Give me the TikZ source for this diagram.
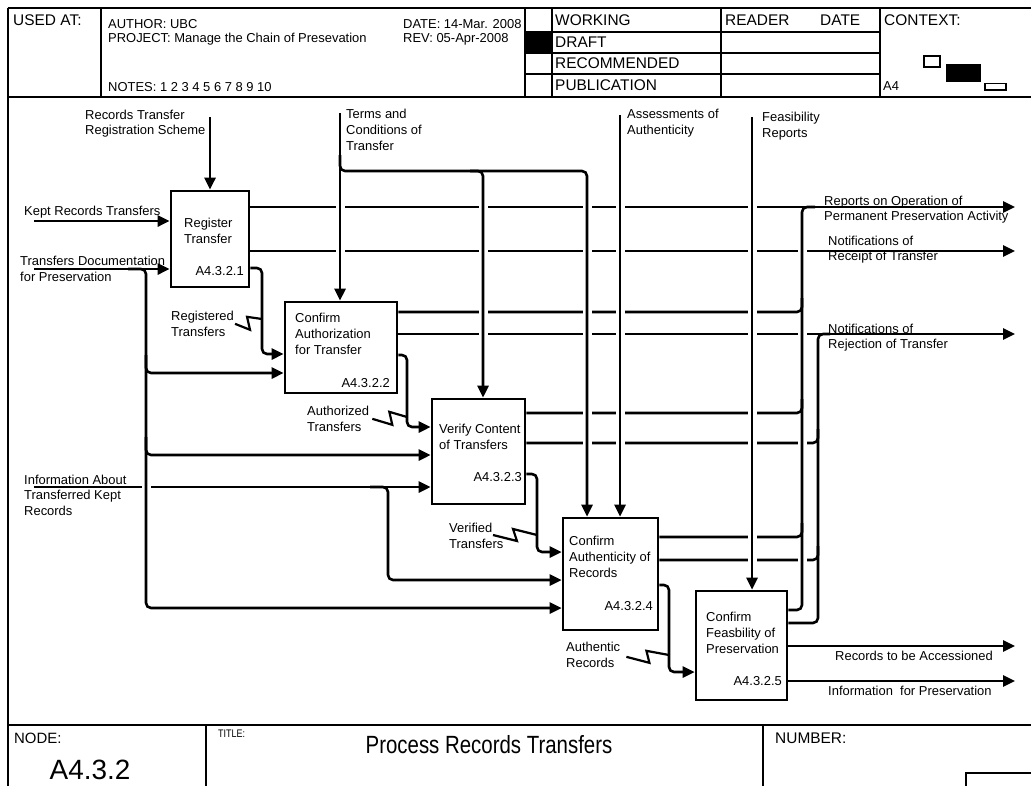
\documentclass[tikz,border=0pt]{standalone}
\usepackage{fontspec}
\setmainfont{Liberation Sans}
\newfontfamily\narrowf[FakeStretch=0.82]{Liberation Sans}
\usetikzlibrary{arrows.meta}
\begin{document}
\begin{tikzpicture}[x=1bp,y=-1bp,
  ln/.style={line width=2.6bp,line join=round},
  rc/.style={rounded corners=5bp},
  arr/.style={-{Triangle[length=12bp,width=11bp]}},
  box/.style={draw,line width=2.6bp,inner sep=0pt},
  hl/.style={line width=2.8bp},
  fr/.style={line width=2bp},
  sq/.style={line width=2.2bp,line join=miter},
  lbl/.style={inner sep=0pt,anchor=north west,align=left,font=\fontsize{13}{15.8}\selectfont},
  num/.style={inner sep=0pt,anchor=north east,font=\fontsize{13}{15.8}\selectfont},
  hd/.style={inner sep=0pt,anchor=base west,font=\fontsize{15.5}{18}\selectfont},
  hs/.style={inner sep=0pt,anchor=base west,font=\fontsize{13}{15}\selectfont},
]
\useasboundingbox (0,0) rectangle (1031,786);

% ---------- header ----------
\draw[hl] (7.5,8) -- (1031,8);
\draw[hl] (7.5,97) -- (1031,97);
\draw[fr] (7.5,8) -- (7.5,786);
\foreach \xx in {101,525,552,721,880} \draw[hl] (\xx,8) -- (\xx,97);
\foreach \yy in {32,53,74} \draw[hl] (525,\yy) -- (880,\yy);
\fill (525,32) rectangle (552,53);
\draw[line width=1.6bp] (924,56) rectangle (940,67);
\fill (946,64) rectangle (981,82);
\draw[line width=1.6bp] (985,83.5) rectangle (1006,90);

\node[hd] (usedat) at (13,25.5) {USED AT:};
\node[hs] (author) at (108,28.5) {AUTHOR: UBC};
\node[hs] (project) at (108,42.5) {PROJECT: Manage the Chain of Presevation};
\node[hs] (notes) at (108,91.5) {NOTES: 1 2 3 4 5 6 7 8 9 10};
\node[hs] (date) at (403,28.5) {DATE: 14-Mar. 2008};
\node[hs] (rev) at (403,42.5) {REV: 05-Apr-2008};
\node[hd] (working) at (555,25.5) {WORKING};
\node[hd] (draft) at (555,47.5) {DRAFT};
\node[hd] (recomm) at (555,68.5) {RECOMMENDED};
\node[hd] (public) at (555,90.5) {PUBLICATION};
\node[hd] (reader) at (725,25.5) {READER};
\node[hd] (rdate) at (820,25.5) {DATE};
\node[hd] (context) at (884,25.5) {CONTEXT:};
\node[hs] (afour) at (883,91) {A4};

% ---------- footer ----------
\draw[hl] (7.5,725) -- (1031,725);
\draw[hl] (206,725) -- (206,786);
\draw[hl] (763,725) -- (763,786);
\draw[hl] (966,786) -- (966,773) -- (1031,773);
\node[inner sep=0pt,anchor=base west,font=\fontsize{15}{17}\selectfont] (nodelbl) at (14,743) {NODE:};
\node[inner sep=0pt,anchor=base,font=\fontsize{28}{32}\selectfont] (nodeval) at (90,779) {A4.3.2};
\node[inner sep=0pt,anchor=base west,font=\narrowf\fontsize{11}{13}\selectfont] (titlelbl) at (218,737) {TITLE:};
\node[inner sep=0pt,anchor=base,font=\narrowf\fontsize{25}{30}\selectfont] (titleval) at (489,753) {Process Records Transfers};
\node[inner sep=0pt,anchor=base west,font=\fontsize{15.5}{17}\selectfont] (numlbl) at (775,743) {NUMBER:};

% ---------- boxes ----------
\node[box,minimum width=78bp,minimum height=96bp] (b1) at (210,239) {};
\node[box,minimum width=112bp,minimum height=91bp] (b2) at (341,347.5) {};
\node[box,minimum width=93bp,minimum height=105bp] (b3) at (478.5,451.5) {};
\node[box,minimum width=95bp,minimum height=112bp] (b4) at (610.5,574) {};
\node[box,minimum width=91bp,minimum height=109bp] (b5) at (741.5,645.5) {};

\node[lbl] (b1t) at (184,218) {Register\\Transfer};
\node[num] (b1n) at (244,266) {A4.3.2.1};
\node[lbl] (b2t) at (295,313) {Confirm\\Authorization\\for Transfer};
\node[num] (b2n) at (390,378) {A4.3.2.2};
\node[lbl] (b3t) at (439,424) {Verify Content\\of Transfers};
\node[num] (b3n) at (522,472) {A4.3.2.3};
\node[lbl] (b4t) at (569,536) {Confirm\\Authenticity of\\Records};
\node[num] (b4n) at (653,601) {A4.3.2.4};
\node[lbl] (b5t) at (706,612) {Confirm\\Feasbility of\\Preservation};
\node[num] (b5n) at (782,676.5) {A4.3.2.5};

% ---------- arrow labels ----------
\node[lbl] (lrts) at (85,109.5) {Records Transfer\\Registration Scheme};
\node[lbl] (lterms) at (346,109) {Terms and\\Conditions of\\Transfer};
\node[lbl] (lassess) at (627,109) {Assessments of\\Authenticity};
\node[lbl] (lfeas) at (762,112) {Feasibility\\Reports};
\node[lbl] (lkept) at (24,206) {Kept Records Transfers};
\node[lbl] (ltdoc) at (20,256) {Transfers Documentation\\for Preservation};
\node[lbl] (linfo) at (24,474.5) {Information About\\Transferred Kept\\Records};
\node[lbl] (lreg) at (171,311) {Registered\\Transfers};
\node[lbl] (lauth) at (307,406) {Authorized\\Transfers};
\node[lbl] (lver) at (449,523) {Verified\\Transfers};
\node[lbl] (lautr) at (566,642) {Authentic\\Records};
\node[lbl] (lrep) at (824,195.5) {Reports on Operation of\\Permanent Preservation Activity};
\node[lbl] (lnrec) at (828,235.5) {Notifications of\\Receipt of Transfer};
\node[lbl] (lnrej) at (828,323.5) {Notifications of\\Rejection of Transfer};
\node[lbl] (lacc) at (835,650.5) {Records to be Accessioned};
\node[lbl] (linfp) at (828,685.5) {Information~~for Preservation};

% free ends
\coordinate (inKept) at (34,221);
\coordinate (inTdoc) at (34,269);
\coordinate (inInfo) at (34,487);
\coordinate (cReg) at (210,117);
\coordinate (cTerms) at (340,113);
\coordinate (cAssess) at (620,115);
\coordinate (cFeas) at (752,117);
\coordinate (oRep) at (1015,207);
\coordinate (oRec) at (1015,251);
\coordinate (oRej) at (1015,334);
\coordinate (oAcc) at (1015,646);
\coordinate (oInf) at (1015,681);

% ---------- layer 1: horizontals ----------
\draw[ln,arr] (inKept) -- (b1.west |- inKept);
\draw[ln,arr] (inTdoc) -- (b1.west |- inTdoc);
\draw[ln,arr] (inInfo) -- (b3.west |- inInfo);
\draw[ln,rc,arr] (370,487) -- (388,487) -- (388,580) -- (b4.west |- 0,580);
\draw[ln,rc,arr] (146,355) -- (146,373) -- (b2.west |- 0,373);
\draw[ln,rc,arr] (146,437) -- (146,455) -- (b3.west |- 0,455);

\draw[ln,rc,arr] (b1.east |- 0,268) -- (262,268) -- (262,354) -- (b2.west |- 0,354);
\draw[ln,rc,arr] (b2.east |- 0,355) -- (407,355) -- (407,427) -- (b3.west |- 0,427);
\draw[ln,rc,arr] (b3.east |- 0,474) -- (537,474) -- (537,552) -- (b4.west |- 0,552);
\draw[ln,rc,arr] (b4.east |- 0,585) -- (669,585) -- (669,672) -- (b5.west |- 0,672);

\draw[ln,arr] (b1.east |- oRep) -- (oRep);
\draw[ln,arr] (b1.east |- oRec) -- (oRec);
\draw[ln,rc] (b2.east |- 0,312) -- (802,312) -- (802,298);
\draw[ln,arr] (b2.east |- oRej) -- (oRej);
\draw[ln,rc] (b3.east |- 0,413) -- (802,413) -- (802,399);
\draw[ln,rc] (b3.east |- 0,443) -- (818,443) -- (818,429);
\draw[ln,rc] (b4.east |- 0,537) -- (802,537) -- (802,523);
\draw[ln,rc] (b4.east |- 0,560) -- (818,560) -- (818,546);
\draw[ln,arr] (b5.east |- oAcc) -- (oAcc);
\draw[ln,arr] (b5.east |- oInf) -- (oInf);

% squiggles
\draw[sq] ([xshift=1bp]lreg.east) -- ++(15,6) -- ++(-3,-13) -- (262,319);
\draw[sq] ([xshift=3bp]lauth.east) -- ++(20,6) -- ++(-3,-13) -- (407,417);
\draw[sq] (493,535) -- (517,541) -- (513,529) -- (537,535);
\draw[sq] ([xshift=6bp,yshift=-2bp]lautr.east) -- ++(23,6) -- ++(-3,-12) -- (669,655);

% ---------- gaps at crossings ----------
\foreach \px/\py in {340/207,340/251,
  483/207,483/251,483/312,483/334,
  587/207,587/251,587/312,587/334,587/413,587/443,
  620/207,620/251,620/312,620/334,620/413,620/443,
  752/207,752/251,752/312,752/334,752/413,752/443,752/537,752/560,
  802/251,802/334,802/443,802/560,
  146/487}
  \fill[white] (\px-4.5,\py-2.4) rectangle (\px+4.5,\py+2.4);

% ---------- layer 2: verticals ----------
\draw[ln,arr] (cReg) -- (b1.north -| cReg);
\draw[ln,arr] (cTerms) -- (b2.north -| cTerms);
\draw[ln,rc,arr] (340,155) -- (340,171) -- (483,171) -- (b3.north -| 483,0);
\draw[ln,rc,arr] (470,171) -- (587,171) -- (b4.north -| 587,0);
\draw[ln,arr] (cAssess) -- (b4.north -| cAssess);
\draw[ln,arr] (cFeas) -- (b5.north -| cFeas);
\draw[ln,rc,arr] (128,269) -- (146,269) -- (146,608) -- (b4.west |- 0,608);
\draw[ln,rc] (b5.east |- 0,610) -- (802,610) -- (802,207) -- (815,207);
\draw[ln,rc] (b5.east |- 0,623) -- (818,623) -- (818,334) -- (830,334);
\end{tikzpicture}
\end{document}
